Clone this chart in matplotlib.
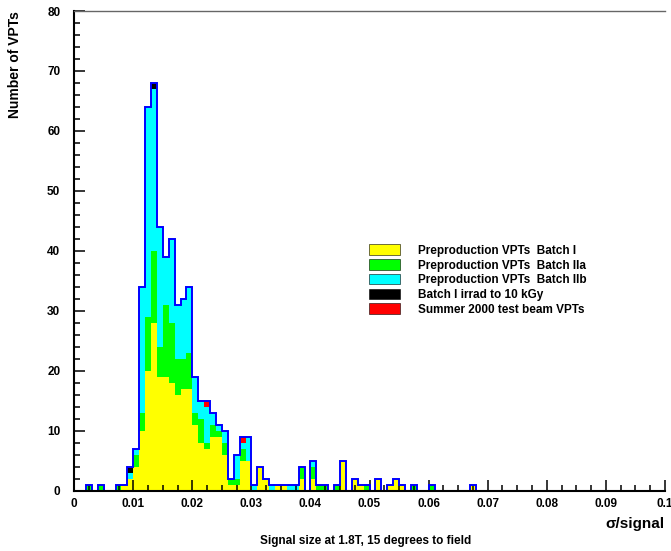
import numpy as np
import matplotlib
matplotlib.use('Agg')
import matplotlib.pyplot as plt
from matplotlib.patches import Patch
from matplotlib.ticker import MultipleLocator

plt.rcParams['font.family'] = ['Liberation Sans', 'DejaVu Sans']
plt.rcParams['font.weight'] = 'bold'

# ---------------- data ----------------
bin_width = 0.001
bin_left = [0.002, 0.004, 0.007, 0.008,
            0.009, 0.010, 0.011, 0.012, 0.013, 0.014, 0.015, 0.016, 0.017, 0.018,
            0.019, 0.020, 0.021, 0.022, 0.023, 0.024, 0.025, 0.026, 0.027, 0.028,
            0.029, 0.030, 0.031, 0.032, 0.033, 0.034, 0.035, 0.036, 0.037, 0.038,
            0.040, 0.041, 0.042, 0.044, 0.045, 0.047, 0.048, 0.049, 0.051, 0.053,
            0.054, 0.055, 0.057, 0.060, 0.067]

batch_I = [0, 0, 0, 1,
           2, 4, 10, 20, 28, 19, 19, 18, 16, 17,
           17, 11, 8, 7, 9, 9, 6, 1, 1, 5,
           5, 0, 4, 2, 0, 1, 1, 0, 0, 2,
           2, 0, 0, 0, 5, 2, 1, 0, 2, 1,
           2, 1, 0, 0, 1]
batch_IIa = [1, 1, 1, 0,
             0, 2, 3, 9, 12, 5, 12, 10, 6, 5,
             6, 2, 4, 1, 2, 1, 2, 1, 1, 2,
             0, 0, 0, 0, 0, 0, 0, 0, 0, 2,
             2, 1, 1, 1, 0, 0, 0, 1, 0, 0,
             0, 0, 1, 1, 0]
batch_IIb = [0, 0, 0, 0,
             1, 1, 21, 35, 27, 20, 8, 14, 9, 10,
             11, 6, 3, 6, 2, 1, 2, 0, 4, 1,
             4, 1, 0, 0, 1, 0, 0, 1, 1, 0,
             1, 0, 0, 0, 0, 0, 0, 0, 0, 0,
             0, 0, 0, 0, 0]
irrad = [0, 0, 0, 0,
         1, 0, 0, 0, 1, 0, 0, 0, 0, 0,
         0, 0, 0, 0, 0, 0, 0, 0, 0, 0,
         0, 0, 0, 0, 0, 0, 0, 0, 0, 0,
         0, 0, 0, 0, 0, 0, 0, 0, 0, 0,
         0, 0, 0, 0, 0]
summer = [0, 0, 0, 0,
          0, 0, 0, 0, 0, 0, 0, 0, 0, 0,
          0, 0, 0, 1, 0, 0, 0, 0, 0, 1,
          0, 0, 0, 0, 0, 0, 0, 0, 0, 0,
          0, 0, 0, 0, 0, 0, 0, 0, 0, 0,
          0, 0, 0, 0, 0]

series = [batch_I, batch_IIa, batch_IIb, irrad, summer]
labels = ['Preproduction VPTs  Batch I', 'Preproduction VPTs  Batch IIa',
          'Preproduction VPTs  Batch IIb', 'Batch I irrad to 10 kGy',
          'Summer 2000 test beam VPTs']
colors = ['#ffff00', '#00ff00', '#00ffff', '#000000', '#ff0000']

x_ticks = [0, 0.01, 0.02, 0.03, 0.04, 0.05, 0.06, 0.07, 0.08, 0.09, 0.1]
x_ticklabels = ['0', '0.01', '0.02', '0.03', '0.04', '0.05', '0.06', '0.07',
                '0.08', '0.09', '0.1']
y_ticks = [0, 10, 20, 30, 40, 50, 60, 70, 80]

# ---------------- figure ----------------
W, H = 671, 551
fig = plt.figure(figsize=(W / 100, H / 100), dpi=100)
ax = fig.add_axes([74.2 / W, 1 - 490.7 / H, (664.9 - 74.2) / W, (490.7 - 11) / H])

nb = 100
edges = np.round(np.arange(nb + 1) * bin_width, 6)
idx = np.rint(np.array(bin_left) / bin_width).astype(int)

bottom = np.zeros(nb)
for vals, c in zip(series, colors):
    full = np.zeros(nb)
    full[idx] = vals
    top = bottom + full
    ax.stairs(top, edges, baseline=bottom.copy(), fill=True, color=c,
              linewidth=0, zorder=1)
    bottom = top

ax.stairs(bottom, edges, baseline=0, fill=False, color='#0000ff',
          linewidth=1.4, zorder=2)

ax.set_xlim(0, 0.1)
ax.set_ylim(0, 80)

ax.set_xticks(x_ticks)
ax.set_xticklabels(x_ticklabels)
ax.set_yticks(y_ticks)
ax.xaxis.set_minor_locator(MultipleLocator(0.0025))
ax.yaxis.set_minor_locator(MultipleLocator(2))

ax.tick_params(axis='both', which='major', direction='in', length=8,
               width=1.1, color='black', labelsize=8.5)
ax.tick_params(axis='both', which='minor', direction='in', length=4.3,
               width=1.1, color='black')
ax.tick_params(axis='x', which='both', top=False, pad=5)
ax.tick_params(axis='y', which='both', right=False, pad=10)
for lab in ax.get_xticklabels() + ax.get_yticklabels():
    lab.set_fontweight('bold')

ax.spines['left'].set_linewidth(1.5)
ax.spines['bottom'].set_linewidth(1.5)
ax.spines['top'].set_color('#666666')
ax.spines['top'].set_linewidth(1.0)
ax.spines['right'].set_visible(False)

ax.set_ylabel('Number of VPTs', fontsize=10, fontweight='bold')
ax.yaxis.set_label_coords(-0.088, 1.0)
ax.yaxis.label.set_horizontalalignment('right')

fig.text(665 / W, 1 - 524 / H, 'σ/signal', ha='right', va='center',
         fontsize=11, fontweight='bold')
fig.text(366 / W, 1 - 541 / H, 'Signal size at 1.8T, 15 degrees to field',
         ha='center', va='center', fontsize=8.5, fontweight='bold')

handles = [Patch(facecolor=c, edgecolor='black', linewidth=0.4) for c in colors]
leg = ax.legend(handles, labels, loc='upper left',
                bbox_to_anchor=(369 / W, 1 - 244.5 / H),
                bbox_transform=fig.transFigure, frameon=False,
                fontsize=8.5, handlelength=2.65, handleheight=1.0,
                handletextpad=1.5, labelspacing=0.2, borderpad=0,
                borderaxespad=0)
for t in leg.get_texts():
    t.set_fontweight('bold')

fig.savefig('out.png', dpi=100)
